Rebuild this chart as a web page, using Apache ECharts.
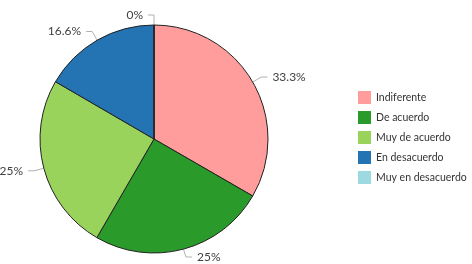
<!DOCTYPE html>
<html>
<head>
<meta charset="utf-8">
<script src="https://cdn.jsdelivr.net/npm/echarts@6/dist/echarts.min.js"></script>
<style>
  html, body { margin: 0; padding: 0; background: #fff; }
  #main { width: 472px; height: 264px; }
</style>
</head>
<body>
<div id="main"></div>
<script>
var categories = ["Indiferente", "De acuerdo", "Muy de acuerdo", "En desacuerdo", "Muy en desacuerdo"]
var values = [33.3, 25, 25, 16.6, 0]
var colors = ["#ff9c9c", "#2a9a2a", "#9ad35c", "#2473b2", "#9cd9e1"]

var chartDom = document.getElementById("main")
var myChart = echarts.init(chartDom)

var option = {
  animation: false,
  color: colors,
  legend: {
    orient: "vertical",
    left: 353,
    top: 86,
    itemWidth: 13,
    itemHeight: 13,
    itemGap: 7,
    itemTextGap: 5,
    icon: "rect",
    itemStyle: { borderWidth: 0 },
    textStyle: { fontFamily: "Lato", fontSize: 10.5, color: "#333" },
    data: categories
  },
  series: [
    {
      type: "pie",
      center: [154, 139],
      radius: 114,
      startAngle: 90,
      clockwise: true,
      itemStyle: { borderColor: "#222", borderWidth: 1 },
      label: {
        show: true,
        position: "outside",
        fontFamily: "Lato",
        fontSize: 12,
        color: "#404040",
        overflow: "none",
        formatter: function (p) { return p.value + "%" }
      },
      labelLine: {
        show: true,
        length: 10,
        length2: 6,
        lineStyle: { color: "#b0b0b0", width: 1 }
      },
      emphasis: { disabled: true },
      data: categories.map(function (c, i) { return { name: c, value: values[i] } })
    }
  ]
}

myChart.setOption(option)
</script>
</body>
</html>
